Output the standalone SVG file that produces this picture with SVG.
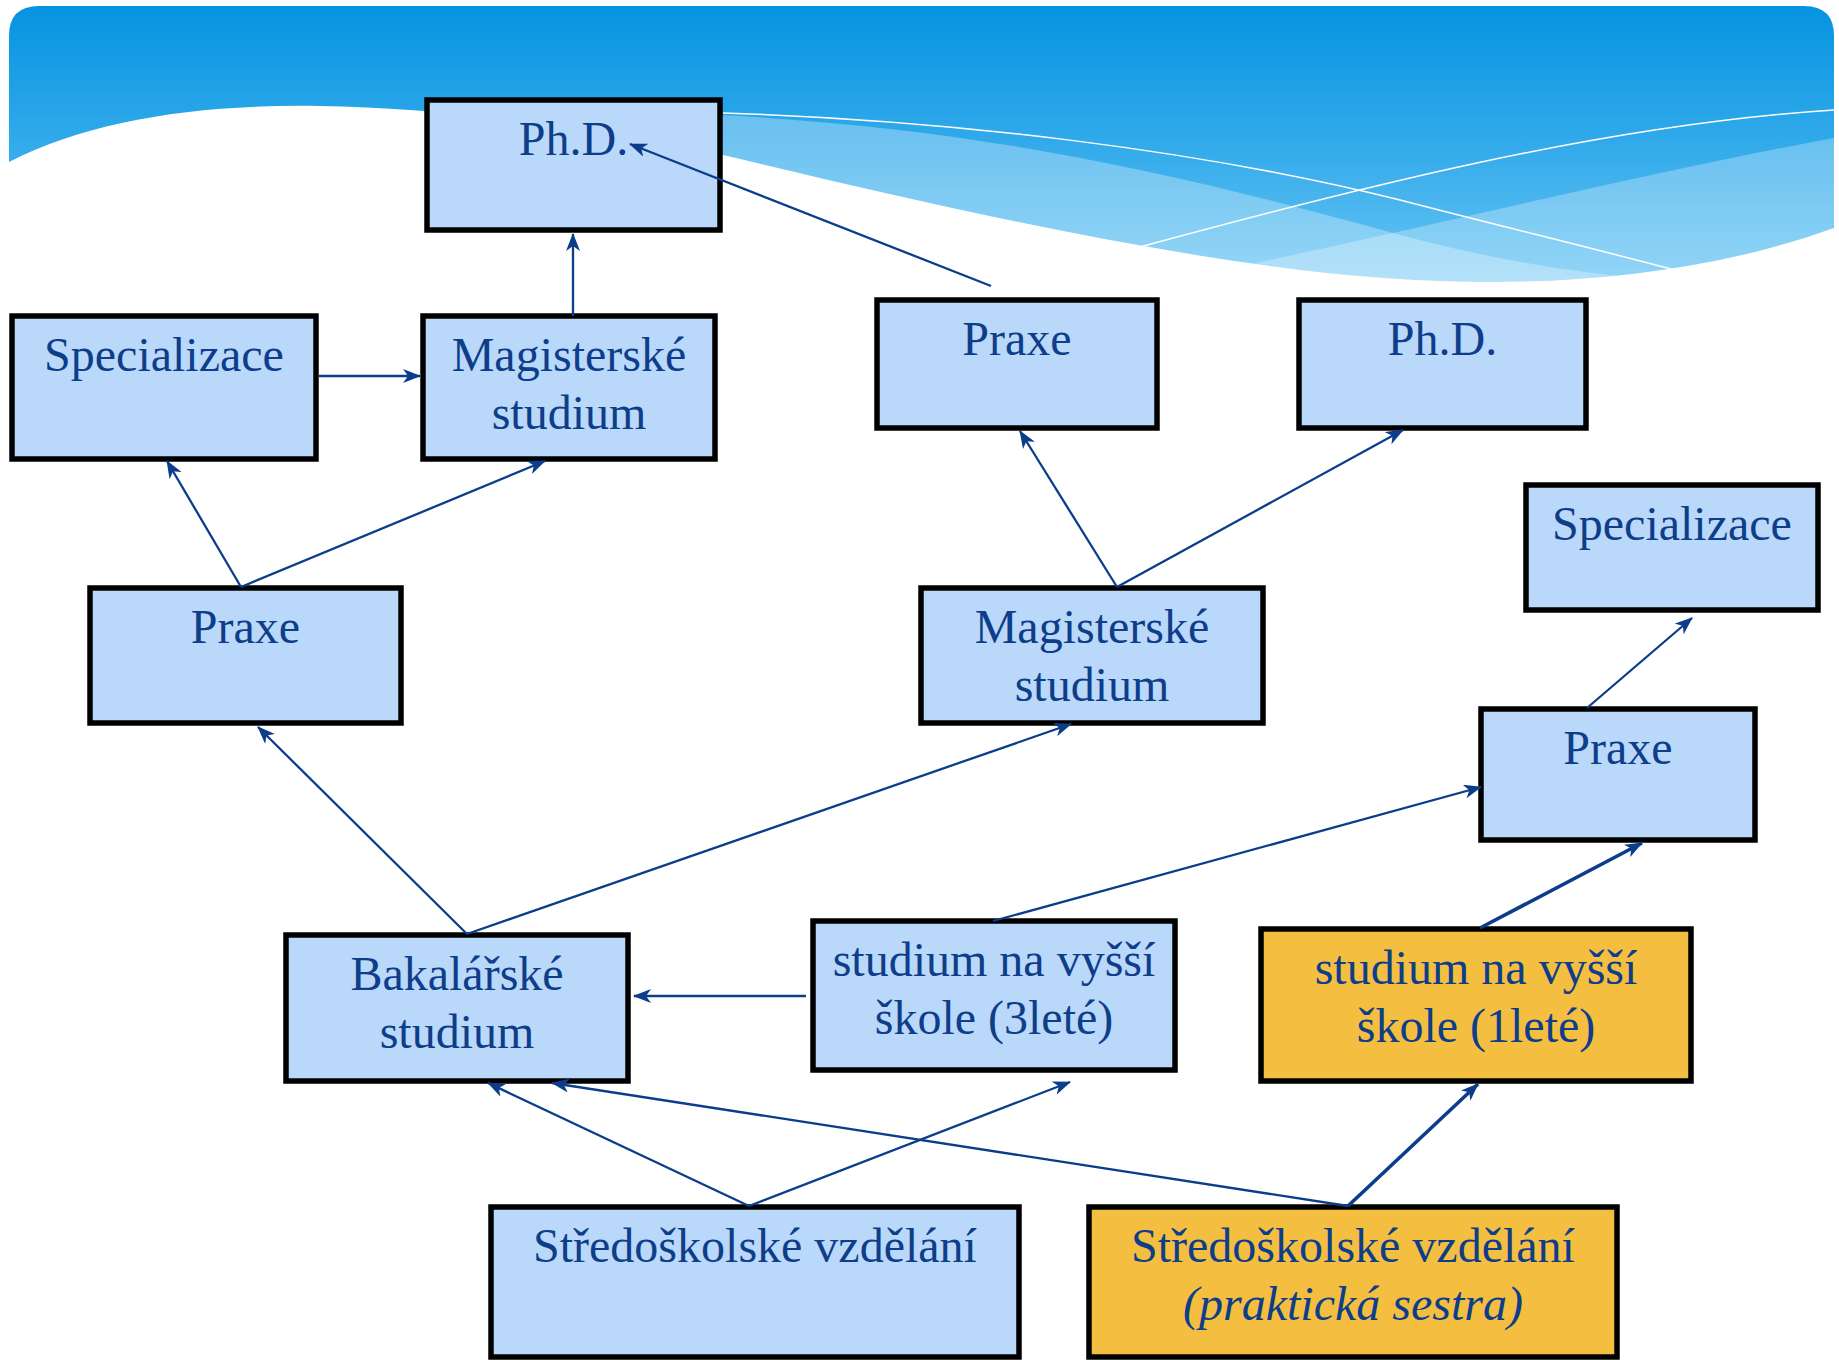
<svg xmlns="http://www.w3.org/2000/svg" width="1839" height="1360" viewBox="0 0 1839 1360">
<defs>
<linearGradient id="hdr" x1="0" y1="6" x2="0" y2="300" gradientUnits="userSpaceOnUse">
<stop offset="0" stop-color="#0593e0"/>
<stop offset="0.45" stop-color="#30a9ea"/>
<stop offset="1" stop-color="#70c8f5"/>
</linearGradient>
<marker id="ah" markerUnits="userSpaceOnUse" markerWidth="18" markerHeight="14" viewBox="0 0 18 14" refX="17" refY="7" orient="auto">
<path d="M0,0 L18,7 L0,14 L5,7 Z" fill="#0b3d8b"/>
</marker>
</defs>
<style>
.box{fill:#b9d8fa;stroke:#000;stroke-width:5.5}
.org{fill:#f4bf40;stroke:#000;stroke-width:5.5}
.t{font-family:"Liberation Serif","Times New Roman",serif;font-size:48px;fill:#0e3d89;text-anchor:middle}
.it{font-style:italic}
.c{stroke:#0b3d8b;stroke-width:2.3;fill:none;marker-end:url(#ah)}
.ck{stroke-width:3.6}
</style>
<rect width="1839" height="1360" fill="#fff"/>
<g id="header">
<path d="M9,36 Q9,6 39,6 L1804,6 Q1834,6 1834,36 L1834,320 L9,320 Z" fill="url(#hdr)"/>
<path d="M700,114 C950,125 1150,165 1400,235 C1500,262 1600,277 1690,282 L1690,330 L700,330 Z" fill="#fff" fill-opacity="0.3"/>
<path d="M1834,138 C1650,172 1450,222 1200,275 L1200,330 L1834,330 Z" fill="#fff" fill-opacity="0.28"/>
<path d="M0,162 L9,162 C90,120 200,104 320,106 C450,108 600,128 723,155 C900,197 1100,245 1300,270 C1450,288 1650,294 1834,228 L1839,228 L1839,1360 L0,1360 Z" fill="#fff"/>
<path d="M723,113 C950,120 1200,150 1400,200 C1500,226 1600,250 1690,274" fill="none" stroke="#fff" stroke-width="1.5"/>
<path d="M1140,247 C1350,190 1600,125 1834,110" fill="none" stroke="#fff" stroke-width="1.5"/>
</g>
<g id="phd1"><rect class="box" x="427" y="100" width="293" height="130"/><text class="t" x="573.5" y="155">Ph.D.</text></g>
<g id="spec1"><rect class="box" x="12" y="316" width="304" height="143"/><text class="t" x="164" y="371">Specializace</text></g>
<g id="mag1"><rect class="box" x="423" y="316" width="292" height="143"/><text class="t" x="569" y="371">Magisterské</text><text class="t" x="569" y="429">studium</text></g>
<g id="praxe2"><rect class="box" x="877" y="300" width="280" height="128"/><text class="t" x="1017" y="355">Praxe</text></g>
<g id="phd2"><rect class="box" x="1299" y="300" width="287" height="128"/><text class="t" x="1442.5" y="355">Ph.D.</text></g>
<g id="spec2"><rect class="box" x="1526" y="485" width="292" height="125"/><text class="t" x="1672" y="540">Specializace</text></g>
<g id="praxe1"><rect class="box" x="90" y="588" width="311" height="135"/><text class="t" x="245.5" y="643">Praxe</text></g>
<g id="mag2"><rect class="box" x="921" y="588" width="342" height="135"/><text class="t" x="1092" y="643">Magisterské</text><text class="t" x="1092" y="701">studium</text></g>
<g id="praxe3"><rect class="box" x="1481" y="709" width="274" height="131"/><text class="t" x="1618" y="764">Praxe</text></g>
<g id="bak"><rect class="box" x="286" y="935" width="342" height="146"/><text class="t" x="457" y="990">Bakalářské</text><text class="t" x="457" y="1048">studium</text></g>
<g id="vos3"><rect class="box" x="813" y="921" width="362" height="149"/><text class="t" x="994" y="976">studium na vyšší</text><text class="t" x="994" y="1034">škole (3leté)</text></g>
<g id="vos1"><rect class="org" x="1261" y="929" width="430" height="152"/><text class="t" x="1476" y="984">studium na vyšší</text><text class="t" x="1476" y="1042">škole (1leté)</text></g>
<g id="ss1"><rect class="box" x="491" y="1207" width="528" height="150"/><text class="t" x="755" y="1262">Středoškolské vzdělání</text></g>
<g id="ss2"><rect class="org" x="1089" y="1207" width="528" height="150"/><text class="t" x="1353" y="1262">Středoškolské vzdělání</text><text class="t it" x="1353" y="1320">(praktická sestra)</text></g>
<g id="connectors">
<line class="c" x1="573" y1="316" x2="573" y2="234"/>
<line class="c" x1="991" y1="286" x2="630" y2="144"/>
<line class="c" x1="319" y1="376" x2="420" y2="376"/>
<line class="c" x1="241" y1="587" x2="167" y2="461"/>
<line class="c" x1="241" y1="587" x2="545" y2="461"/>
<line class="c" x1="1117" y1="587" x2="1020" y2="431"/>
<line class="c" x1="1117" y1="587" x2="1403" y2="430"/>
<line class="c" x1="467" y1="934" x2="258" y2="727"/>
<line class="c" x1="467" y1="934" x2="1071" y2="724"/>
<line class="c" x1="993" y1="921" x2="1481" y2="787"/>
<line class="c ck" x1="1480" y1="928" x2="1642" y2="843"/>
<line class="c" x1="1587" y1="708" x2="1692" y2="618"/>
<line class="c" x1="806" y1="996" x2="634" y2="996"/>
<line class="c" x1="749" y1="1206" x2="488" y2="1083"/>
<line class="c" x1="749" y1="1206" x2="1070" y2="1082"/>
<line class="c" x1="1348" y1="1206" x2="552" y2="1083"/>
<line class="c ck" x1="1348" y1="1206" x2="1478" y2="1084"/>
</g>
</svg>
